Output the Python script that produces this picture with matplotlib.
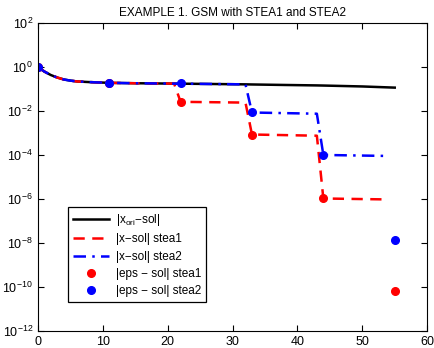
import matplotlib.pyplot as plt
import numpy as np

plt.rcParams['font.family'] = ['Liberation Sans', 'DejaVu Sans']
plt.rcParams['mathtext.fontset'] = 'custom'
plt.rcParams['mathtext.rm'] = 'Liberation Sans'
plt.rcParams['mathtext.it'] = 'Liberation Sans'

# |x_ori - sol|
x_ori = [0, 1, 2, 3, 4, 5, 6, 8, 11, 15, 21, 22, 27, 32, 33, 38, 43, 44, 50, 55]
y_ori = [1.0, 0.62, 0.43, 0.33, 0.27, 0.24, 0.22, 0.205, 0.19, 0.182, 0.175, 0.174, 0.168, 0.162, 0.16, 0.152, 0.145, 0.143, 0.13, 0.115]

# |x - sol| stea1
x_s1 = [0, 1, 2, 3, 4, 5, 6, 8, 11, 15, 21, 22, 32, 33, 43, 44, 54]
y_s1 = [1.0, 0.62, 0.43, 0.33, 0.27, 0.24, 0.22, 0.205, 0.19, 0.182, 0.175, 0.026, 0.024, 8.5e-4, 7.5e-4, 1.05e-6, 9.5e-7]

# |x - sol| stea2
x_s2 = [0, 1, 2, 3, 4, 5, 6, 8, 11, 15, 21, 22, 27, 32, 33, 43, 44, 54]
y_s2 = [1.0, 0.62, 0.43, 0.33, 0.27, 0.24, 0.22, 0.205, 0.19, 0.182, 0.175, 0.174, 0.168, 0.162, 0.0085, 0.0075, 1.0e-4, 9.0e-5]

# |eps - sol|
x_eps = [0, 11, 22, 33, 44, 55]
eps_s1 = [1.0, 0.19, 0.026, 8.5e-4, 1.05e-6, 6.5e-11]
eps_s2 = [1.0, 0.19, 0.18, 0.009, 1.0e-4, 1.4e-8]

fig = plt.figure(figsize=(4.35, 3.48), dpi=100)
ax = fig.add_axes([0.087, 0.049, 0.895, 0.885])

ax.semilogy(x_ori, y_ori, color='black', lw=1.8, label='|x$_{ori}$\u2212sol|')
ax.semilogy(x_s1, y_s1, color='red', lw=1.8, ls=(0, (4.5, 3)), label='|x\u2212sol| stea1')
ax.semilogy(x_s2, y_s2, color='blue', lw=1.8, ls=(0, (5, 2.5, 1, 2.5)), label='|x\u2212sol| stea2')
ax.semilogy(x_eps, eps_s1, 'o', color='red', ms=5.5, label='|eps \u2212 sol| stea1')
ax.semilogy(x_eps, eps_s2, 'o', color='blue', ms=5.5, label='|eps \u2212 sol| stea2')

ax.set_xlim(0, 60)
ax.set_ylim(1e-12, 1e2)
ax.set_xticks(np.arange(0, 61, 10))
ax.set_yticks([10.0 ** k for k in range(-12, 3, 2)])
ax.yaxis.set_minor_locator(plt.NullLocator())
ax.tick_params(direction='in', top=True, right=True, labelsize=9, length=4)
for s in ax.spines.values():
    s.set_linewidth(0.8)

ax.set_title('EXAMPLE 1. GSM with STEA1 and STEA2', fontsize=8.5, pad=5)

leg = ax.legend(loc='lower left', bbox_to_anchor=(0.077, 0.094), borderaxespad=0,
                fontsize=8.5, fancybox=False, edgecolor='black', framealpha=1,
                handlelength=3.1, labelspacing=0.45, borderpad=0.4, handletextpad=0.55)
leg.get_frame().set_linewidth(0.9)

fig.savefig('out.png', dpi=100)
